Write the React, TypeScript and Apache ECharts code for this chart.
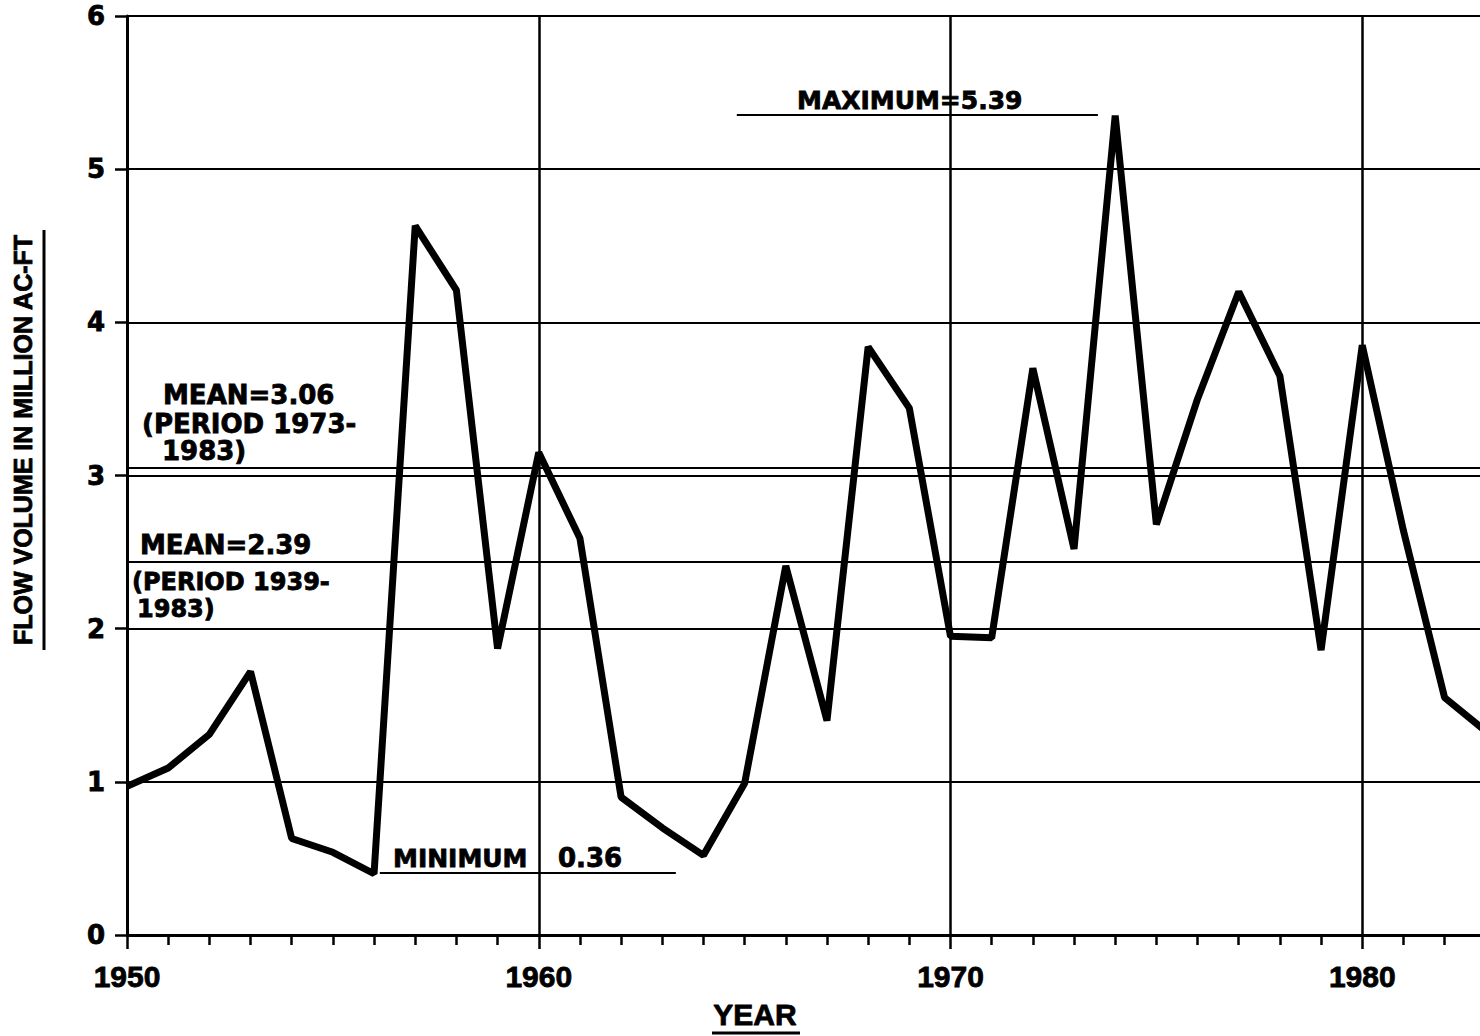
import React, { useEffect, useRef } from "react";
import * as echarts from "echarts";

// ---- data ----
const years = [
  1950, 1951, 1952, 1953, 1954, 1955, 1956, 1957, 1958, 1959,
  1960, 1961, 1962, 1963, 1964, 1965, 1966, 1967, 1968, 1969,
  1970, 1971, 1972, 1973, 1974, 1975, 1976, 1977, 1978, 1979,
  1980, 1981, 1982, 1983,
];
const flowVolume = [
  0.97, 1.09, 1.31, 1.72, 0.63, 0.54, 0.40, 4.63, 4.21, 1.87,
  3.15, 2.59, 0.90, 0.70, 0.52, 0.99, 2.41, 1.40, 3.84, 3.44,
  1.95, 1.94, 3.70, 2.52, 5.35, 2.68, 3.50, 4.20, 3.65, 1.86,
  3.85, 2.64, 1.55, 1.33,
];
const meanValues = [3.047, 2.442]; // drawn positions of the two mean lines
const maxLineSpan = [1964.81, 1973.58];
const maxLineValue = 5.355;
const minLineSpan = [1956.14, 1963.33];
const minLineValue = 0.405;
const xRange = [1950, 1990];
const yRange = [0, 6];

const BOLD_WIDE = "'DejaVu Sans', sans-serif";
const BOLD_HELV = "'Liberation Sans', Arial, sans-serif";

export default function App() {
  const ref = useRef<HTMLDivElement>(null);

  useEffect(() => {
    document.documentElement.style.overflow = "hidden";
    document.body.style.overflow = "hidden";
    const chart = echarts.init(ref.current!, null, { renderer: "svg" });

    const txt = (text: string, x: number, y: number, size: number, family = BOLD_WIDE, align = "left") => ({
      type: "text",
      x,
      y,
      silent: true,
      style: {
        text,
        fill: "#000",
        stroke: "#000",
        lineWidth: 0.8,
        font: `bold ${size}px ${family}`,
        align,
        verticalAlign: "middle",
      },
    });

    chart.setOption({
      animation: false,
      backgroundColor: "#fff",
      grid: { left: 127, right: 0, top: 16, bottom: 101, containLabel: false },
      xAxis: {
        type: "value",
        min: xRange[0],
        max: xRange[1],
        interval: 10,
        axisLine: { show: true, onZero: false, lineStyle: { color: "#000", width: 3 } },
        axisTick: { show: true, length: 14, lineStyle: { color: "#000", width: 2.5 } },
        minorTick: { show: true, splitNumber: 10, length: 10, lineStyle: { color: "#000", width: 2.5 } },
        axisLabel: {
          showMaxLabel: false,
          margin: 26,
          color: "#000",
          textBorderColor: "#000",
          textBorderWidth: 0.8,
          fontFamily: BOLD_HELV,
          fontWeight: "bold",
          fontSize: 30,
          formatter: (v: number) => String(v),
        },
        splitLine: { show: true, lineStyle: { color: "#000", width: 2.5 } },
      },
      yAxis: {
        type: "value",
        min: yRange[0],
        max: yRange[1],
        interval: 1,
        axisLine: { show: true, onZero: false, lineStyle: { color: "#000", width: 3 } },
        axisTick: { show: true, length: 12, lineStyle: { color: "#000", width: 2.5 } },
        axisLabel: {
          margin: 22,
          color: "#000",
          textBorderColor: "#000",
          textBorderWidth: 0.8,
          fontFamily: BOLD_WIDE,
          fontWeight: "bold",
          fontSize: 26,
        },
        splitLine: { show: true, lineStyle: { color: "#000", width: 2 } },
      },
      series: [
        {
          type: "line",
          data: years.map((y, i) => [y, flowVolume[i]]),
          showSymbol: false,
          symbol: "none",
          z: 5,
          lineStyle: { color: "#000", width: 7, join: "bevel" },
          markLine: {
            silent: true,
            symbol: "none",
            animation: false,
            label: { show: false },
            lineStyle: { color: "#000", width: 2, type: "solid" },
            data: [
              { yAxis: meanValues[0] },
              { yAxis: meanValues[1] },
              [
                { coord: [maxLineSpan[0], maxLineValue] },
                { coord: [maxLineSpan[1], maxLineValue] },
              ],
              [
                { coord: [minLineSpan[0], minLineValue] },
                { coord: [minLineSpan[1], minLineValue] },
              ],
            ],
          },
        },
      ],
      graphic: [
        txt("MEAN=3.06", 163, 395, 26),
        txt("(PERIOD 1973-", 142, 424, 26),
        txt("1983)", 162, 451, 26),
        txt("MEAN=2.39", 140, 545, 26),
        txt("(PERIOD 1939-", 132, 582, 24),
        txt("1983)", 137, 609, 24),
        txt("MAXIMUM=5.39", 797, 100, 25),
        txt("MINIMUM", 393, 858, 25),
        txt("0.36", 558, 858, 26),
        txt("YEAR", 755, 1014, 30, BOLD_HELV, "center"),
        {
          type: "line",
          silent: true,
          shape: { x1: 712, y1: 1033, x2: 800, y2: 1033 },
          style: { stroke: "#000", lineWidth: 3 },
        },
        {
          type: "text",
          x: 23,
          y: 440,
          rotation: Math.PI / 2,
          silent: true,
          style: {
            text: "FLOW VOLUME IN MILLION AC-FT",
            fill: "#000",
            stroke: "#000",
            lineWidth: 0.8,
            font: `bold 25px ${BOLD_HELV}`,
            align: "center",
            verticalAlign: "middle",
          },
        },
        {
          type: "line",
          silent: true,
          shape: { x1: 44, y1: 230, x2: 44, y2: 650 },
          style: { stroke: "#000", lineWidth: 3 },
        },
      ],
    });

    return () => chart.dispose();
  }, []);

  return (
    <div
      ref={ref}
      style={{ position: "fixed", left: 0, top: 0, width: 1774, height: 1036, background: "#fff" }}
    />
  );
}
